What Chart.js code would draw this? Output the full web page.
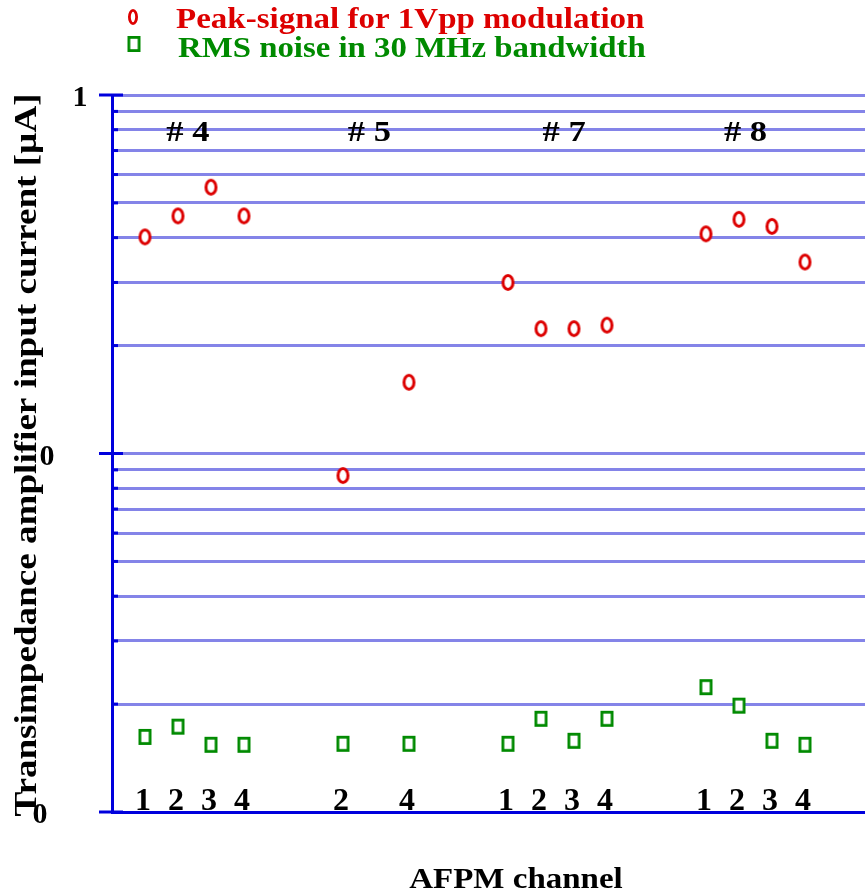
<!DOCTYPE html>
<html lang="en">
<head>
<meta charset="UTF-8">
<title>AFPM channel signal and noise</title>
<script src="https://cdn.jsdelivr.net/npm/chart.js"></script>
<style>
  body { margin: 0; background: #fff; overflow: hidden; }
  #wrap { width: 865px; height: 892px; }
  canvas { display: block; }
</style>
</head>
<body>
<div id="wrap"><canvas id="afpmChart" width="865" height="892"></canvas></div>
<script>
// slot of each channel along x, the number printed under it, and currents in µA
const channelSlots = [1, 2, 3, 4, 7, 9, 12, 13, 14, 15, 18, 19, 20, 21];
const channelLabels = ['1', '2', '3', '4', '2', '4', '1', '2', '3', '4', '1', '2', '3', '4'];
const peakSignal = [0.402, 0.460, 0.553, 0.460, 0.0868, 0.158, 0.300, 0.223, 0.223, 0.228, 0.410, 0.450, 0.430, 0.342];
const rmsNoise = [0.0162, 0.0173, 0.0154, 0.0154, 0.0155, 0.0155, 0.0155, 0.0182, 0.0158, 0.0182, 0.0223, 0.0198, 0.0158, 0.0154];
const groupLabels = ['# 4', '# 5', '# 7', '# 8'];
const groupSlots = [2.3, 7.8, 13.7, 19.2];
const yTickValues = [1, 0.1, 0.01];
const yTickLabels = ['1', '0', '0'];

const RED = '#dd0000';
const GREEN = '#008a00';
const AXIS_BLUE = '#0000dd';
const GRID_BLUE = '#8484e8';
const SERIF = '"Liberation Serif", "Times New Roman", serif';

// grid ticks: 1..9 in each decade between 0.01 and 1
const gridTicks = [];
for (let e = -2; e < 0; e++) {
  for (let s = 1; s < 10; s++) gridTicks.push(+(s * Math.pow(10, e)).toFixed(4));
}
gridTicks.push(1);

function ellipseMarker(color, w, h, lw) {
  const c = document.createElement('canvas');
  c.width = w + 2; c.height = h + 2;
  const g = c.getContext('2d');
  g.beginPath();
  g.ellipse(c.width / 2, c.height / 2, (w - lw) / 2, (h - lw) / 2, 0, 0, Math.PI * 2);
  g.fillStyle = '#fff';
  g.fill();
  g.lineWidth = lw;
  g.strokeStyle = color;
  g.stroke();
  return c;
}

function boxMarker(color, w, h, lw) {
  const c = document.createElement('canvas');
  c.width = w + 2; c.height = h + 2;
  const g = c.getContext('2d');
  g.fillStyle = '#fff';
  g.fillRect(1, 1, w, h);
  g.lineWidth = lw;
  g.strokeStyle = color;
  g.strokeRect(1 + lw / 2, 1 + lw / 2, w - lw, h - lw);
  return c;
}

const circleImg = ellipseMarker(RED, 13, 17, 3);
const squareImg = boxMarker(GREEN, 13, 16, 2.8);
const legendCircle = ellipseMarker(RED, 10, 16, 2.8);
const legendSquare = boxMarker(GREEN, 13, 16, 2.8);

// bold serif text, optionally stretched sideways
function text(ctx, str, x, y, size, color, align, sx) {
  ctx.save();
  ctx.translate(x, y);
  ctx.scale(sx || 1, 1);
  ctx.font = 'bold ' + size + 'px ' + SERIF;
  ctx.fillStyle = color;
  ctx.textAlign = align || 'center';
  ctx.textBaseline = 'alphabetic';
  ctx.fillText(str, 0, 0);
  ctx.restore();
}

const decorations = {
  id: 'decorations',
  afterDraw(chart) {
    const ctx = chart.ctx;
    const xs = chart.scales.x;
    const ys = chart.scales.y;
    const axisX = ys.right;

    // tick marks on the y axis
    ctx.save();
    ctx.strokeStyle = AXIS_BLUE;
    ctx.lineWidth = 3;
    gridTicks.forEach(v => {
      const py = ys.getPixelForValue(v);
      const major = yTickValues.includes(v);
      ctx.beginPath();
      ctx.moveTo(major ? axisX - 13 : axisX, py);
      ctx.lineTo(major ? axisX + 11 : axisX + 6, py);
      ctx.stroke();
    });
    ctx.restore();

    // y tick labels
    const labelX = [80, 47, 40];
    yTickValues.forEach((v, i) => {
      text(ctx, yTickLabels[i], labelX[i], ys.getPixelForValue(v) + 11, 30, '#000');
    });

    // channel numbers along the bottom and group names along the top
    channelSlots.forEach((s, i) => {
      text(ctx, channelLabels[i], xs.getPixelForValue(s) - 2, xs.top - 2, 32, '#000');
    });
    groupSlots.forEach((s, i) => {
      text(ctx, groupLabels[i], xs.getPixelForValue(s), 141, 30, '#000', 'center', 1.15);
    });

    // legend
    ctx.drawImage(legendCircle, 133 - legendCircle.width / 2, 17 - legendCircle.height / 2);
    ctx.drawImage(legendSquare, 134 - legendSquare.width / 2, 44 - legendSquare.height / 2);
    text(ctx, 'Peak-signal for 1Vpp modulation', 176, 28, 30, RED, 'left', 1.1);
    text(ctx, 'RMS noise in 30 MHz bandwidth', 178, 57, 30, GREEN, 'left', 1.094);

    // axis titles
    text(ctx, 'AFPM channel', 516, 888, 30, '#000', 'center', 1.1);
    ctx.save();
    ctx.translate(36, 455);
    ctx.rotate(-Math.PI / 2);
    text(ctx, 'Transimpedance amplifier input current [µA]', 0, 0, 32, '#000', 'center', 1.16);
    ctx.restore();
  }
};

new Chart(document.getElementById('afpmChart'), {
  type: 'scatter',
  data: {
    datasets: [
      {
        label: 'Peak-signal for 1Vpp modulation',
        data: channelSlots.map((s, i) => ({ x: s, y: peakSignal[i] })),
        pointStyle: circleImg
      },
      {
        label: 'RMS noise in 30 MHz bandwidth',
        data: channelSlots.map((s, i) => ({ x: s, y: rmsNoise[i] })),
        pointStyle: squareImg
      }
    ]
  },
  options: {
    responsive: false,
    animation: false,
    layout: { autoPadding: false, padding: { top: 95, right: 0, left: 0, bottom: 0 } },
    plugins: { legend: { display: false }, tooltip: { enabled: false } },
    scales: {
      x: {
        type: 'linear',
        min: 0,
        max: 22.82,
        grid: { display: false },
        ticks: { display: false },
        border: { color: AXIS_BLUE, width: 3 },
        afterFit: s => { s.height = 80; }
      },
      y: {
        type: 'logarithmic',
        min: 0.01,
        max: 1,
        afterBuildTicks: s => { s.ticks = gridTicks.map(v => ({ value: v })); },
        grid: { color: GRID_BLUE, lineWidth: 3, drawTicks: false },
        ticks: { display: false },
        border: { color: AXIS_BLUE, width: 3 },
        afterFit: s => { s.width = 112; }
      }
    }
  },
  plugins: [decorations]
});
</script>
</body>
</html>
